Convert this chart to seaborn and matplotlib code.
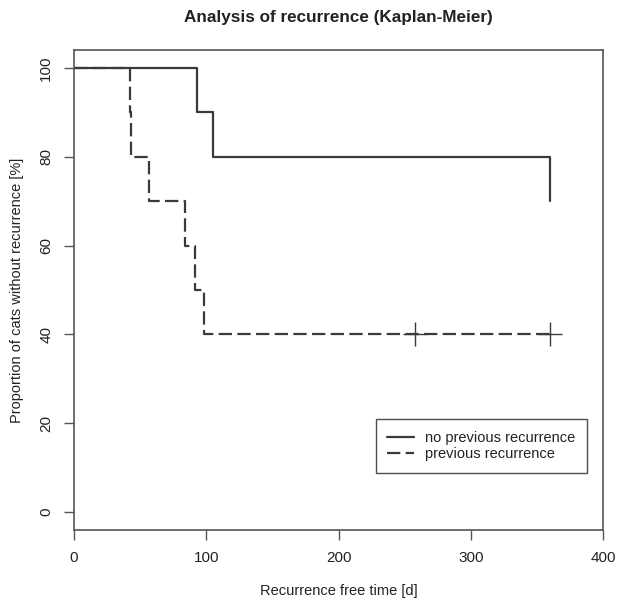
import matplotlib
matplotlib.use("Agg")
import matplotlib.pyplot as plt
from matplotlib.lines import Line2D
import pandas as pd
import seaborn as sns

# ── data ─────────────────────────────────────────────────────────────────────
groups = ["no previous recurrence", "previous recurrence"]
time_no   = [0, 93, 93, 105, 105, 360, 360]
surv_no   = [100, 100, 90, 90, 80, 80, 70]
time_prev = [0, 42, 42, 43, 43, 57, 57, 84, 84, 91.5, 91.5, 98, 98, 360]
surv_prev = [100, 100, 90, 90, 80, 80, 70, 70, 60, 60, 50, 50, 40, 40]
cens_time = [258, 360]
cens_surv = [40, 40]

DARK = "#3a3a3a"
TXT = "#222222"
sns.set_theme(style="white")
plt.rcParams["font.family"] = ["Liberation Sans", "DejaVu Sans"]

df = pd.concat([
    pd.DataFrame({"time": time_no, "surv": surv_no, "group": groups[0]}),
    pd.DataFrame({"time": time_prev, "surv": surv_prev, "group": groups[1]}),
], ignore_index=True)

fig = plt.figure(figsize=(6.19, 6.02), dpi=100)
ax = fig.add_axes([0.1196, 0.1196, 0.9742 - 0.1196, 0.9169 - 0.1196])

sns.lineplot(data=df, x="time", y="surv", style="group", estimator=None,
             sort=False, color=DARK, linewidth=1.6,
             dashes={groups[0]: "", groups[1]: (6, 2.4)}, ax=ax, legend=False)
sns.scatterplot(x=cens_time, y=cens_surv, marker="+", s=320, color=DARK,
                linewidth=1.0, ax=ax, zorder=3)

ax.set_xlim(0, 400)
ax.set_ylim(-4, 104)
ax.set_xticks([0, 100, 200, 300, 400])
ax.set_yticks([0, 20, 40, 60, 80, 100])
ax.set_yticklabels([0, 20, 40, 60, 80, 100], rotation=90, va="center")
ax.tick_params(axis="both", direction="out", length=7, width=1, color="#555555",
               labelsize=11, labelcolor=TXT, pad=8, bottom=True, left=True)
for s in ax.spines.values():
    s.set_color("#555555")
    s.set_linewidth(1.2)

ax.set_xlabel("Recurrence free time [d]", fontsize=10.5, color=TXT, labelpad=14)
ax.set_ylabel("Proportion of cats without recurrence [%]", fontsize=10.5,
              color=TXT, labelpad=11)
ax.set_title("Analysis of recurrence (Kaplan-Meier)", fontsize=12.3,
             fontweight="bold", color=TXT, pad=20)

handles = [Line2D([], [], color=DARK, lw=1.6),
           Line2D([], [], color=DARK, lw=1.6, dashes=(6, 2.4))]
leg = ax.legend(handles, groups, loc="lower right", bbox_to_anchor=(0.970, 0.119),
                borderaxespad=0, fontsize=10.5, frameon=True, fancybox=False,
                handlelength=1.85, handletextpad=0.75, borderpad=0.8,
                labelspacing=0.15, labelcolor=TXT)
leg.get_frame().set_edgecolor(TXT)
leg.get_frame().set_linewidth(1.0)

plt.savefig("out.png", dpi=100)
plt.close()
